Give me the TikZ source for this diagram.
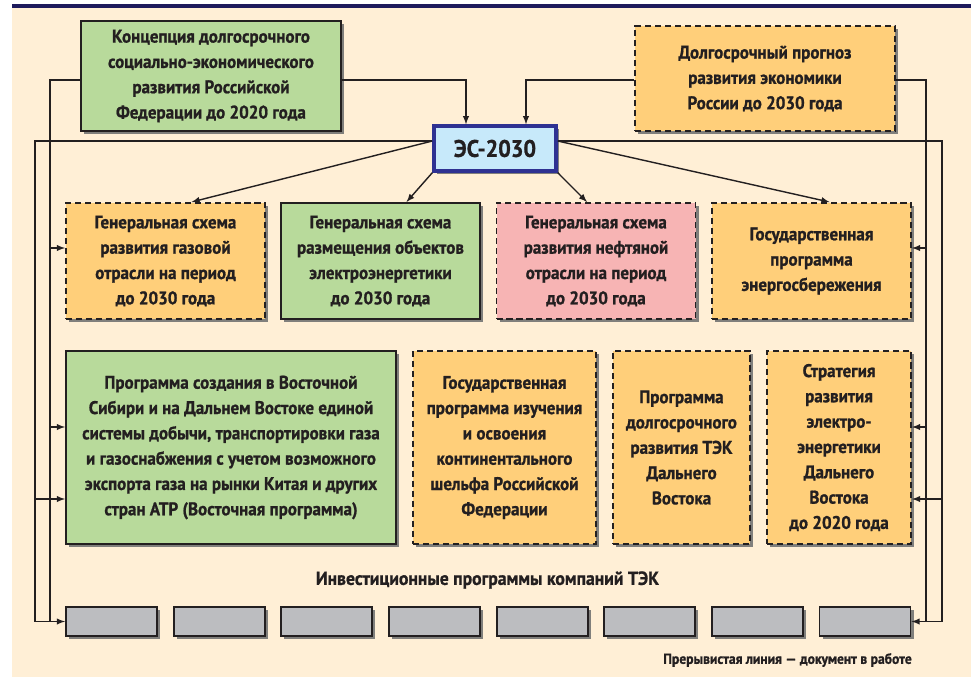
\documentclass[tikz,border=0pt]{standalone}
\usepackage{fontspec}
\setmainfont{PT Sans}[FakeStretch=0.93,BoldFeatures={FakeBold=1}]
\usetikzlibrary{arrows,calc,math,shadows}

\definecolor{cream}{RGB}{255,239,214}
\definecolor{navy}{RGB}{30,26,92}
\definecolor{ink}{RGB}{35,31,32}
\definecolor{greenb}{RGB}{184,218,155}
\definecolor{orangeb}{RGB}{255,207,122}
\definecolor{pinkb}{RGB}{247,180,180}
\definecolor{skyb}{RGB}{199,233,250}
\definecolor{esline}{RGB}{46,49,146}
\definecolor{grayb}{RGB}{188,189,192}

\newcommand{\pxu}{0.025cm}

\tikzset{
	sz/.style 2 args={minimum width=#1*\pxu,minimum height=#2*\pxu},
	box/.style={draw=ink,line width=1.4pt,align=center,text=ink,inner sep=2pt,
		font=\bfseries\fontsize{13}{18}\selectfont,
		drop shadow={shadow xshift=2.2pt,shadow yshift=-2.2pt,fill=black!55,opacity=0.9}},
	plan/.style={box,dash pattern=on 4.3pt off 2.8pt},
	wire/.style={draw=ink,line width=1pt},
	conn/.style={wire,->},
}

\begin{document}
\begin{tikzpicture}[>=latex,x=\pxu,y=-\pxu]

\tikzmath{
	real	\gx, \gs;
	\gx = 111.5;
	\gs = 107.64;
}

\useasboundingbox (0,0) rectangle (971,677);
\fill[cream] (12,8) rectangle (971,677);
\fill[navy] (12,4) rectangle (971,8);

% top
\node[box,fill=greenb,sz={260}{110}] (konc) at (211,76)
	{Концепция долгосрочного\\социально-экономического\\развития Российской\\Федерации до 2020 года};
\node[plan,fill=orangeb,sz={260}{105}] (prog) at (765,78.5)
	{Долгосрочный прогноз\\развития экономики\\России до 2030 года};
\node[box,draw=esline,line width=2.4pt,fill=skyb,sz={122}{45},
	font=\bfseries\fontsize{17}{20}\selectfont] (es) at (495,148.5) {ЭС-2030};

% second row
\node[plan,fill=orangeb,sz={199}{116}] (gas) at (165.5,261)
	{Генеральная схема\\развития газовой\\отрасли на период\\до 2030 года};
\node[box,fill=greenb,sz={199}{116}] (elec) at (380.5,261)
	{Генеральная схема\\размещения объектов\\электроэнергетики\\до 2030 года};
\node[plan,fill=pinkb,sz={199}{116}] (oil) at (596,261)
	{Генеральная схема\\развития нефтяной\\отрасли на период\\до 2030 года};
\node[plan,fill=orangeb,sz={199}{116}] (save) at (811.5,261)
	{Государственная\\программа\\энергосбережения};

% third row
\node[box,fill=greenb,sz={330}{193}] (vost) at (231,447.5)
	{Программа создания в Восточной\\Сибири и на Дальнем Востоке единой\\системы добычи, транспортировки газа\\и газоснабжения с учетом возможного\\экспорта газа на рынки Китая и других\\стран АТР (Восточная программа)};
\node[plan,fill=orangeb,sz={183}{193}] (shelf) at (504.5,447.5)
	{Государственная\\программа изучения\\и освоения\\континентального\\шельфа Российской\\Федерации};
\node[plan,fill=orangeb,sz={137}{193}] (tek) at (681.5,447.5)
	{Программа\\долгосрочного\\развития ТЭК\\Дальнего\\Востока};
\node[plan,fill=orangeb,sz={144}{193}] (strat) at (839,447.5)
	{Стратегия\\развития\\электро-\\энергетики\\Дальнего\\Востока\\до 2020 года};

% companies
\node[font=\bfseries\fontsize{13.5}{16}\selectfont,text=ink] (inv) at (487.5,580)
	{Инвестиционные программы компаний ТЭК};
\foreach \i in {1,...,8}
	\node[box,fill=grayb,sz={91}{29}] (g\i) at ({\gx+\gs*(\i-1)},621.5) {};

\node[anchor=east,font=\bfseries\fontsize{10.4}{12}\selectfont,text=ink,inner sep=0pt] (note)
	at (912,660) {Прерывистая линия — документ в работе};

\coordinate (kL) at ($(konc.west)+(0,4)$);
\coordinate (kR) at ($(konc.east)+(0,4)$);
\coordinate (pL) at ($(prog.west)+(0,1.5)$);
\coordinate (pR) at ($(prog.east)+(0,1.5)$);
\coordinate (esL) at ($(es.west)+(0,-7.5)$);
\coordinate (esR) at ($(es.east)+(0,-7.5)$);
\coordinate (busA) at (50,621.5);
\coordinate (busB) at (35,621.5);
\coordinate (busC) at (926,621.5);
\coordinate (busD) at (942,621.5);

\draw[conn] (kR) -| ($(es.north)+(-29,0)$);
\draw[conn] (pL) -| ($(es.north)+(31,0)$);

\draw[conn] (esL) -- ($(gas.north)+(26,0)$);
\draw[conn] (es.south west) -- ($(elec.north)+(26,0)$);
\draw[conn] (es.south east) -- ($(oil.north)+(-9,0)$);
\draw[conn] (esR) -- ($(save.north)+(18,0)$);

\draw[wire] (kL) -| (busA);
\draw[conn] (esL) -| (busB) -- (g1.west);
\draw[wire] (pR) -| (busC);
\draw[conn] (esR) -| (busD) -- (g8.east);

\coordinate (aGas) at ($(gas.west)+(0,-13)$);
\coordinate (aV1) at ($(vost.west)+(0,-20.5)$);
\coordinate (aV2) at ($(vost.west)+(0,51.5)$);
\coordinate (aSave) at ($(save.east)+(0,-13)$);
\coordinate (aS1) at ($(strat.east)+(0,-20.5)$);
\coordinate (aS2) at ($(strat.east)+(0,51.5)$);

\draw[conn] (aGas -| busA) -- (aGas);
\draw[conn] (aV1 -| busA) -- (aV1);
\draw[conn] (aV2 -| busB) -- (aV2);
\draw[conn] (aSave -| busC) -- (aSave);
\draw[conn] (aS1 -| busC) -- (aS1);
\draw[conn] (aS2 -| busD) -- (aS2);

\end{tikzpicture}
\end{document}
